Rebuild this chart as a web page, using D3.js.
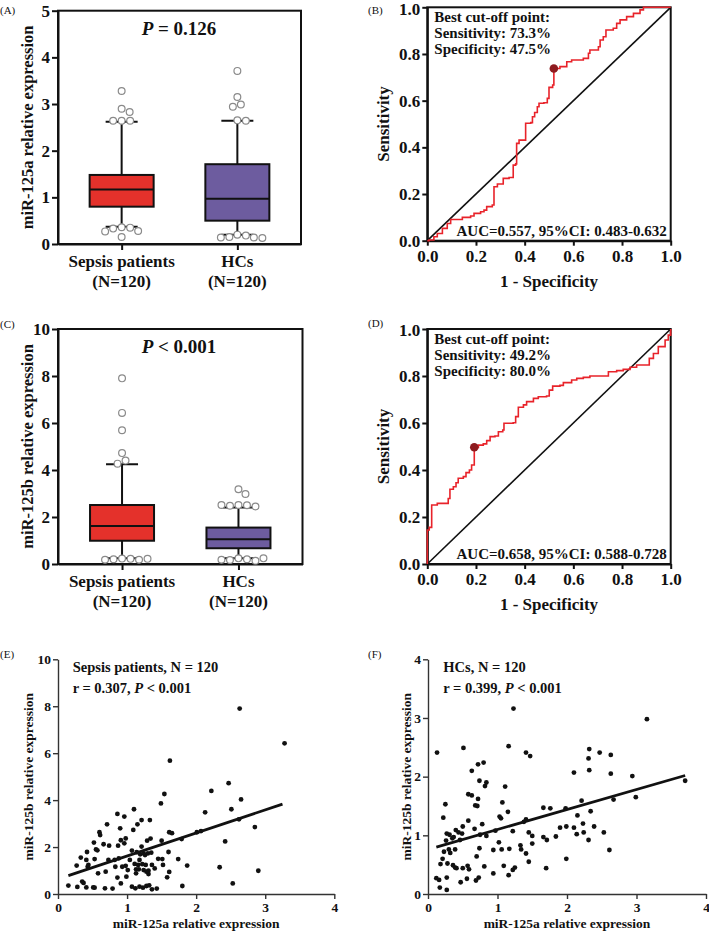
<!DOCTYPE html>
<html><head><meta charset="utf-8">
<script src="https://cdn.jsdelivr.net/npm/d3@7/dist/d3.min.js"></script>
<style>
body{margin:0;background:#fff}
text{font-family:"Liberation Serif","Times New Roman",serif;fill:#111}
</style>
</head><body>
<svg id="chart" width="709" height="932"></svg>
<script>
// ---------------- DATA ----------------
const groups = ["Sepsis patients", "HCs"];
const groupN = ["(N=120)", "(N=120)"];
const boxColors = ["#e4312b", "#6d5c9f"];

// Panel A: miR-125a
const aQ1 = [0.80, 0.50];
const aMedian = [1.17, 0.97];
const aQ3 = [1.48, 1.71];
const aWhiskLo = [0.37, 0.20];
const aWhiskHi = [2.62, 2.64];
const aOutSepsis = [3.28, 2.90, 2.83, 2.64, 2.64, 2.64, 0.36, 0.35, 0.33, 0.28, 0.27, 0.15];
const aOutHC = [3.71, 3.15, 2.99, 2.94, 2.65, 2.64, 0.20, 0.18, 0.15, 0.14, 0.14, 0.13];
const aYTicks = [0, 1, 2, 3, 4, 5];

// Panel C: miR-125b
const cQ1 = [0.99, 0.67];
const cMedian = [1.62, 1.05];
const cQ3 = [2.51, 1.55];
const cWhiskLo = [0.24, 0.24];
const cWhiskHi = [4.24, 2.40];
const cOutSepsis = [7.90, 6.43, 5.69, 4.72, 4.40, 4.27, 0.23, 0.22, 0.20, 0.18, 0.18, 0.22];
const cOutHC = [3.18, 2.98, 2.51, 2.50, 2.48, 2.45, 2.51, 0.24, 0.20, 0.17, 0.14, 0.18, 0.24];
const cYTicks = [0, 2, 4, 6, 8, 10];

// Panel B ROC (miR-125a)
const bFpr = [0,0.007,0.027,0.041,0.062,0.082,0.096,0.137,0.144,0.178,0.192,0.219,0.233,0.244,0.267,0.274,0.288,0.312,0.336,0.353,0.353,0.363,0.367,0.377,0.397,0.404,0.425,0.432,0.441,0.452,0.459,0.479,0.493,0.5,0.515,0.52,0.52,0.545,0.573,0.593,0.641,0.662,0.668,0.703,0.71,0.723,0.734,0.764,0.778,0.792,0.819,0.847,0.874,0.888,1];
const bTpr = [0,0.003,0.017,0.031,0.053,0.074,0.091,0.091,0.10,0.106,0.117,0.124,0.131,0.146,0.153,0.231,0.243,0.267,0.271,0.281,0.324,0.329,0.417,0.431,0.431,0.503,0.506,0.531,0.549,0.574,0.589,0.591,0.61,0.657,0.667,0.70,0.738,0.746,0.767,0.774,0.781,0.803,0.817,0.831,0.86,0.874,0.903,0.91,0.931,0.946,0.96,0.974,0.989,1,1];
const bCut = [0.52, 0.738];
const bTexts = ["Best cut-off point:", "Sensitivity: 73.3%", "Specificity: 47.5%"];
const bAuc = "AUC=0.557, 95%CI: 0.483-0.632";

// Panel D ROC (miR-125b)
const dFpr = [0,0,0.008,0.018,0.018,0.041,0.079,0.086,0.093,0.107,0.118,0.127,0.148,0.159,0.173,0.182,0.193,0.193,0.21,0.23,0.244,0.258,0.278,0.292,0.31,0.315,0.353,0.363,0.374,0.395,0.408,0.436,0.456,0.49,0.501,0.515,0.545,0.559,0.593,0.614,0.641,0.668,0.737,0.744,0.778,0.805,0.833,0.86,0.908,0.912,0.929,0.949,0.977,0.99,1];
const dTpr = [0,0.145,0.156,0.156,0.251,0.258,0.258,0.279,0.318,0.329,0.346,0.365,0.372,0.389,0.40,0.421,0.421,0.496,0.506,0.511,0.525,0.542,0.545,0.563,0.57,0.599,0.601,0.627,0.667,0.677,0.691,0.705,0.712,0.715,0.74,0.757,0.76,0.772,0.783,0.79,0.794,0.80,0.80,0.818,0.823,0.828,0.837,0.847,0.847,0.875,0.896,0.925,0.953,0.974,1];
const dCut = [0.193, 0.497];
const dTexts = ["Best cut-off point:", "Sensitivity: 49.2%", "Specificity: 80.0%"];
const dAuc = "AUC=0.658, 95%CI: 0.588-0.728";
const rocTicks = [0, 0.2, 0.4, 0.6, 0.8, 1.0];

// Panel E scatter (sepsis)
const eX = [0.15,0.28,0.27,0.33,0.35,0.37,0.41,0.42,0.43,0.44,0.41,0.51,0.53,0.52,0.53,0.55,0.57,0.58,0.60,0.61,0.66,0.68,0.69,0.71,0.74,0.79,0.82,0.83,0.86,0.86,0.87,0.88,0.90,0.91,0.91,0.93,0.96,0.96,0.98,0.99,1.01,1.04,1.07,1.07,1.09,1.10,1.11,1.12,1.13,1.14,1.15,1.17,1.18,1.18,1.19,1.21,1.21,1.23,1.24,1.24,1.26,1.27,1.28,1.29,1.30,1.31,1.31,1.32,1.33,1.34,1.35,1.36,1.36,1.43,1.49,1.51,1.50,1.52,1.54,1.58,1.60,1.61,1.61,1.62,1.65,1.74,1.79,1.80,1.87,2.01,2.07,2.13,2.22,2.42,2.34,2.47,2.51,2.53,2.62,2.63,2.65,2.90,2.85,3.28,0.73,1.45,1.40,1.13,1.16,0.98,1.22,1.28];
const eY = [0.36,0.30,1.21,1.55,0.53,0.47,1.45,1.79,1.16,1.24,0.28,0.28,0.27,2.19,1.49,1.90,1.86,0.88,2.63,2.51,2.12,0.24,0.95,2.97,2.06,0.23,1.45,1.16,3.41,0.70,2.06,1.52,2.80,2.29,0.45,1.16,2.16,3.30,2.37,0.74,1.02,1.45,0.31,1.85,2.73,3.61,1.28,0.24,1.05,1.78,2.97,1.05,0.31,1.45,1.69,3.15,2.02,0.27,1.73,1.02,1.66,1.24,0.34,2.27,1.73,0.99,0.85,0.37,3.15,2.36,1.76,0.20,1.24,0.23,3.86,1.49,2.27,1.24,4.26,0.71,1.79,2.63,0.94,5.68,2.59,1.49,2.34,0.34,1.21,2.63,2.68,3.48,4.39,2.24,1.14,4.72,3.61,0.45,3.18,7.90,4.03,0.99,2.85,6.42,1.45,1.50,1.09,0.88,1.24,1.20,1.27,0.95];
const eLineX = [0.15, 3.25];
const eLineY = [0.78, 3.83];
const eTexts = ["Sepsis patients, N = 120", "r = 0.307, "];

// Panel F scatter (HCs)
const fX = [0.13,0.12,0.16,0.17,0.18,0.21,0.22,0.23,0.25,0.26,0.27,0.27,0.28,0.27,0.30,0.31,0.32,0.35,0.36,0.37,0.39,0.39,0.40,0.41,0.44,0.46,0.47,0.49,0.50,0.51,0.50,0.56,0.57,0.58,0.58,0.59,0.63,0.63,0.67,0.68,0.69,0.70,0.71,0.72,0.72,0.73,0.74,0.74,0.75,0.78,0.80,0.81,0.82,0.84,0.84,0.94,0.94,0.97,1.02,1.03,1.05,1.06,1.07,1.09,1.11,1.15,1.16,1.17,1.16,1.22,1.22,1.25,1.23,1.33,1.34,1.38,1.41,1.41,1.41,1.45,1.45,1.47,1.50,1.50,1.66,1.71,1.70,1.66,1.76,1.84,1.90,1.98,1.99,1.99,2.10,2.10,2.14,2.15,2.21,2.23,2.24,2.31,2.32,2.31,2.32,2.34,2.39,2.47,2.53,2.61,2.63,2.63,2.67,2.94,2.99,3.15,3.70];
const fY = [2.41,0.27,0.24,0.11,0.51,0.60,1.30,0.72,1.53,0.91,0.28,0.07,0.52,1.03,0.76,1.01,0.70,0.95,0.49,0.97,0.45,0.76,1.09,0.44,1.05,0.92,0.20,1.03,1.15,2.49,0.44,0.26,0.48,1.25,1.70,0.42,1.68,2.10,1.11,1.51,0.23,0.64,1.50,1.62,2.21,0.28,1.93,0.78,1.01,1.19,2.24,0.47,1.84,0.99,1.90,0.75,0.35,1.08,0.88,1.32,1.29,0.76,1.56,0.48,1.83,1.40,0.32,0.77,2.52,1.07,0.41,0.45,3.16,0.83,0.76,1.23,1.27,0.69,2.41,0.55,1.05,2.35,0.99,0.86,0.97,0.92,0.44,1.47,1.46,0.98,1.13,1.46,1.15,0.60,2.07,1.13,1.02,1.34,1.59,1.20,1.05,0.92,2.11,2.31,2.47,1.41,1.15,2.41,1.05,0.75,2.37,2.05,1.61,2.01,1.65,2.98,1.93];
const fLineX = [0.12, 3.70];
const fLineY = [0.80, 2.02];
const fTexts = ["HCs, N = 120", "r = 0.399, "];

// ---------------- DRAWING ----------------
const svg = d3.select("#chart");
const INK = "#111";

function styleAxis(sel, fs, sw) {
  sel.selectAll("path.domain").attr("stroke", INK).attr("stroke-width", sw);
  sel.selectAll(".tick line").attr("stroke", INK).attr("stroke-width", sw);
  sel.selectAll(".tick text").attr("font-family", '"Liberation Serif","Times New Roman",serif')
    .attr("font-size", fs).attr("font-weight", "bold").attr("fill", INK);
}

function panelLabel(txt, x, y) {
  svg.append("text").attr("x", x).attr("y", y).attr("font-size", 11).text(txt);
}

function pTitle(g, x, y, fs, rest) {
  const t = g.append("text").attr("x", x).attr("y", y).attr("font-size", fs)
    .attr("font-weight", "bold").attr("text-anchor", "middle");
  t.append("tspan").attr("font-style", "italic").text("P");
  t.append("tspan").text(rest);
}

function swarm(vals, y, D) {
  const placed = [];
  return vals.map(v => {
    const py = y(v);
    let best = 0;
    for (let k = 0; k < 400; k++) {
      const cand = k === 0 ? 0 : (k % 2 ? 1 : -1) * Math.ceil(k / 2) * 0.5;
      if (placed.every(p => Math.hypot(p[0] - cand, p[1] - py) >= D)) { best = cand; break; }
    }
    placed.push([best, py]);
    return [best, py];
  });
}

function boxPanel(c) {
  const g = svg.append("g");
  const y = d3.scaleLinear().domain([0, c.ymax]).range([c.y1, c.y0]);
  const x = d3.scalePoint().domain(groups).range([c.x0, c.x1]).padding(0.55);
  const ya = g.append("g").attr("transform", `translate(${c.x0},0)`)
    .call(d3.axisLeft(y).tickValues(c.yticks).tickSize(6).tickPadding(2).tickSizeOuter(0).tickFormat(d3.format("d")));
  styleAxis(ya, 17, 2);
  const xa = g.append("g").attr("transform", `translate(0,${c.y1})`)
    .call(d3.axisBottom(x).tickSize(6).tickSizeOuter(0).tickFormat(""));
  styleAxis(xa, 17, 2);
  g.append("rect").attr("x", c.x0).attr("y", c.y0).attr("width", c.x1 - c.x0).attr("height", c.y1 - c.y0)
    .attr("fill", "none").attr("stroke", INK).attr("stroke-width", 2);
  const bw = 64, cw = 32;
  groups.forEach((gr, i) => {
    const cx = x(gr);
    g.append("line").attr("x1", cx).attr("x2", cx).attr("y1", y(c.lo[i])).attr("y2", y(c.q1[i])).attr("stroke", INK).attr("stroke-width", 2);
    g.append("line").attr("x1", cx).attr("x2", cx).attr("y1", y(c.q3[i])).attr("y2", y(c.hi[i])).attr("stroke", INK).attr("stroke-width", 2);
    [c.lo[i], c.hi[i]].forEach(v => g.append("line").attr("x1", cx - cw / 2).attr("x2", cx + cw / 2)
      .attr("y1", y(v)).attr("y2", y(v)).attr("stroke", INK).attr("stroke-width", 2));
    g.append("rect").attr("x", cx - bw / 2).attr("y", y(c.q3[i])).attr("width", bw)
      .attr("height", y(c.q1[i]) - y(c.q3[i])).attr("fill", boxColors[i]).attr("stroke", INK).attr("stroke-width", 2);
    g.append("line").attr("x1", cx - bw / 2).attr("x2", cx + bw / 2).attr("y1", y(c.med[i])).attr("y2", y(c.med[i]))
      .attr("stroke", INK).attr("stroke-width", 2);
    const pts = swarm(c.out[i], y, 8.2);
    g.selectAll(null).data(pts).join("circle").attr("cx", d => cx + d[0]).attr("cy", d => d[1]).attr("r", 3.4)
      .attr("fill", "#fff").attr("stroke", "#8a8a8a").attr("stroke-width", 1.2);
    const t = g.append("text").attr("x", cx).attr("text-anchor", "middle").attr("font-size", 17).attr("font-weight", "bold");
    t.append("tspan").attr("x", cx).attr("y", c.y1 + 23).text(gr);
    t.append("tspan").attr("x", cx).attr("y", c.y1 + 43).text(groupN[i]);
  });
  pTitle(g, 179, c.titleY, 19, c.title);
  g.append("text").attr("transform", `translate(${c.ytx},${(c.y0 + c.y1) / 2}) rotate(-90)`)
    .attr("text-anchor", "middle").attr("font-size", 16.5).attr("font-weight", "bold").text(c.ytitle);
}

function rocPanel(c) {
  const g = svg.append("g");
  const x = d3.scaleLinear().domain([0, 1]).range([c.x0, c.x1]);
  const y = d3.scaleLinear().domain([0, 1]).range([c.y1, c.y0]);
  const ya = g.append("g").attr("transform", `translate(${c.x0},0)`)
    .call(d3.axisLeft(y).tickValues(rocTicks).tickSize(5).tickPadding(2).tickSizeOuter(0).tickFormat(d3.format(".1f")));
  styleAxis(ya, 17, 2);
  ya.selectAll(".tick text").attr("dy", d => d === 1 ? "0.4em" : "0.32em");
  const xa = g.append("g").attr("transform", `translate(0,${c.y1})`)
    .call(d3.axisBottom(x).tickValues(rocTicks).tickSize(5).tickPadding(4).tickSizeOuter(0).tickFormat(d3.format(".1f")));
  styleAxis(xa, 17, 2);
  g.append("rect").attr("x", c.x0).attr("y", c.y0).attr("width", c.x1 - c.x0).attr("height", c.y1 - c.y0)
    .attr("fill", "none").attr("stroke", INK).attr("stroke-width", 2);
  g.append("line").attr("x1", x(0)).attr("y1", y(0)).attr("x2", x(1)).attr("y2", y(1)).attr("stroke", INK).attr("stroke-width", 1.6);
  const pts = c.fpr.map((f, i) => [f, c.tpr[i]]);
  g.append("path").datum(pts).attr("fill", "none").attr("stroke", "#e8232a").attr("stroke-width", 1.6)
    .attr("d", d3.line().x(d => x(d[0])).y(d => y(d[1])).curve(d3.curveStepAfter));
  g.append("circle").attr("cx", x(c.cut[0])).attr("cy", y(c.cut[1])).attr("r", 4.3).attr("fill", "#8e1b1f");
  c.texts.forEach((t, i) => g.append("text").attr("x", c.x0 + 7).attr("y", c.y0 + [15, 31, 47][i])
    .attr("font-size", 15).attr("font-weight", "bold").text(t));
  g.append("text").attr("x", c.x1 - 4).attr("y", c.y1 - 5).attr("text-anchor", "end")
    .attr("font-size", 15).attr("font-weight", "bold").text(c.auc);
  g.append("text").attr("x", (c.x0 + c.x1) / 2).attr("y", c.y1 + 46).attr("text-anchor", "middle")
    .attr("font-size", 17).attr("font-weight", "bold").text("1 - Specificity");
  g.append("text").attr("transform", `translate(389,${(c.y0 + c.y1) / 2}) rotate(-90)`)
    .attr("text-anchor", "middle").attr("font-size", 17).attr("font-weight", "bold").text("Sensitivity");
}

function scatterPanel(c) {
  const g = svg.append("g");
  const x = d3.scaleLinear().domain([0, 4]).range([c.x0, c.x1]);
  const y = d3.scaleLinear().domain([0, c.ymax]).range([c.y1, c.y0]);
  const ya = g.append("g").attr("transform", `translate(${c.x0},0)`)
    .call(d3.axisLeft(y).tickValues(c.yticks).tickSize(5).tickPadding(2).tickSizeOuter(0).tickFormat(d3.format("d")));
  styleAxis(ya, 13.5, 1.4);
  const xa = g.append("g").attr("transform", `translate(0,${c.y1})`)
    .call(d3.axisBottom(x).tickValues([0, 1, 2, 3, 4]).tickSize(5).tickPadding(3).tickSizeOuter(0).tickFormat(d3.format("d")));
  styleAxis(xa, 13.5, 1.4);
  ya.selectAll("path.domain, .tick line").attr("stroke", "#333");
  xa.selectAll("path.domain, .tick line").attr("stroke", "#333");
  g.selectAll(null).data(c.xs.map((v, i) => [v, c.ys[i]])).join("circle")
    .attr("cx", d => x(d[0])).attr("cy", d => y(d[1])).attr("r", 2.4).attr("fill", "#111");
  g.append("line").attr("x1", x(c.lx[0])).attr("y1", y(c.ly[0])).attr("x2", x(c.lx[1])).attr("y2", y(c.ly[1]))
    .attr("stroke", "#111").attr("stroke-width", 2.8);
  g.append("text").attr("x", c.tx).attr("y", c.y0 + 12.5).attr("font-size", 14.5).attr("font-weight", "bold").text(c.texts[0]);
  const t = g.append("text").attr("x", c.tx).attr("y", c.y0 + 34).attr("font-size", 14.5).attr("font-weight", "bold");
  t.append("tspan").text(c.texts[1]);
  t.append("tspan").attr("font-style", "italic").text("P");
  t.append("tspan").text(" < 0.001");
  g.append("text").attr("x", (c.x0 + c.x1) / 2).attr("y", 928).attr("text-anchor", "middle")
    .attr("font-size", 13.5).attr("font-weight", "bold").text("miR-125a relative expression");
  g.append("text").attr("transform", `translate(${c.ytx},${(c.y0 + c.y1) / 2}) rotate(-90)`)
    .attr("text-anchor", "middle").attr("font-size", 13.5).attr("font-weight", "bold").text("miR-125b relative expression");
}

boxPanel({x0: 58, x1: 301, y0: 10.7, y1: 244, ymax: 5, yticks: aYTicks, q1: aQ1, med: aMedian, q3: aQ3,
  lo: aWhiskLo, hi: aWhiskHi, out: [aOutSepsis, aOutHC], title: " = 0.126", titleY: 34.5,
  ytitle: "miR-125a relative expression", ytx: 33});
boxPanel({x0: 58, x1: 302.5, y0: 329, y1: 564, ymax: 10, yticks: cYTicks, q1: cQ1, med: cMedian, q3: cQ3,
  lo: cWhiskLo, hi: cWhiskHi, out: [cOutSepsis, cOutHC], title: " < 0.001", titleY: 353,
  ytitle: "miR-125b relative expression", ytx: 33});
rocPanel({x0: 427.3, x1: 670.7, y0: 7.3, y1: 240.7, fpr: bFpr, tpr: bTpr, cut: bCut, texts: bTexts, auc: bAuc});
rocPanel({x0: 427.3, x1: 670.7, y0: 329, y1: 564, fpr: dFpr, tpr: dTpr, cut: dCut, texts: dTexts, auc: dAuc});
scatterPanel({x0: 58, x1: 334.3, y0: 659.3, y1: 894, ymax: 10, yticks: [0, 2, 4, 6, 8, 10],
  xs: eX, ys: eY, lx: eLineX, ly: eLineY, texts: eTexts, tx: 72.7, ytx: 33});
scatterPanel({x0: 428, x1: 706, y0: 659.3, y1: 894, ymax: 4, yticks: [0, 1, 2, 3, 4],
  xs: fX, ys: fY, lx: fLineX, ly: fLineY, texts: fTexts, tx: 443.3, ytx: 411});

panelLabel("(A)", 0, 14);
panelLabel("(B)", 368, 14);
panelLabel("(C)", 0, 328);
panelLabel("(D)", 368, 327);
panelLabel("(E)", 0, 658);
panelLabel("(F)", 368, 658);
</script>
</body></html>
